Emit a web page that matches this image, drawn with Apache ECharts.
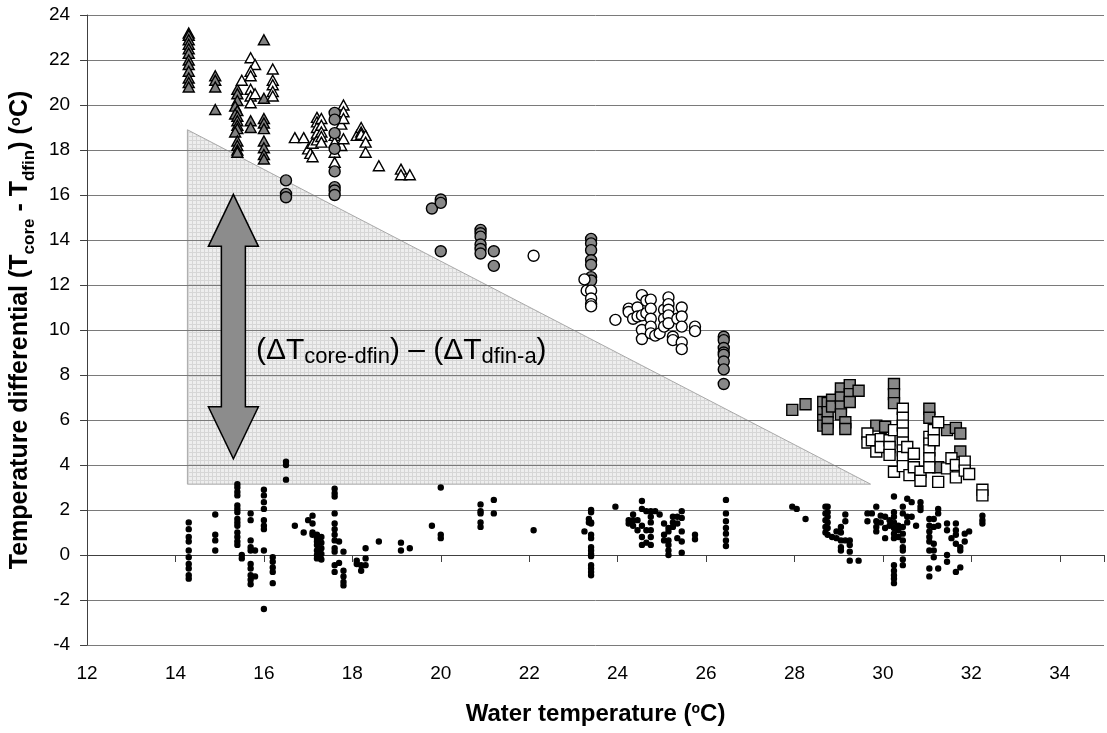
<!DOCTYPE html>
<html>
<head>
<meta charset="utf-8">
<script src="https://cdn.jsdelivr.net/npm/echarts@6/dist/echarts.min.js"></script>
<style>
  html, body { margin: 0; padding: 0; background: #fff; }
  #chart { width: 1107px; height: 733px; }
</style>
</head>
<body>
<div id="chart"></div>
<script>
// Axis ranges (°C)
const xRange = [12, 35];
const yRange = [-4, 24];
const tickStep = 2;

// Core-to-dorsal-fin differential, by group
const grayTriangles = [
  [14.3,23.2],[14.3,23.1],[14.3,22.9],[14.3,22.7],[14.3,22.5],[14.3,22.3],[14.3,22.0],[14.3,21.8],[14.3,21.5],[14.3,21.2],[14.3,21.0],[14.3,20.8],
  [14.9,21.3],[14.9,21.1],[14.9,20.8],[14.9,19.8],
  [15.4,20.7],[15.4,20.5],[15.4,20.2],[15.35,19.95],[15.4,19.75],[15.35,19.6],[15.4,19.5],[15.4,19.3],[15.4,19.1],[15.4,18.95],[15.35,18.8],[15.4,18.4],[15.4,18.2],[15.4,18.0],[15.4,17.9],
  [15.7,19.3],[15.7,19.0],
  [16.0,22.9],[16.0,20.3],[16.0,19.4],[16.0,19.2],[16.0,18.95],[16.0,18.4],[16.0,18.1],[16.0,17.8],[16.0,17.6]
];
const whiteTriangles = [
  [15.5,21.1],[15.7,22.1],[15.8,21.8],[15.7,21.5],[15.7,21.3],[15.7,20.7],[15.7,20.4],[15.7,20.1],[15.8,20.5],
  [16.2,21.6],[16.2,21.1],[16.2,20.9],[16.2,20.6],[16.2,20.4],
  [16.7,18.55],[16.9,18.55],[17.0,18.05],[17.05,17.85],[17.1,17.7],[17.1,18.3],
  [17.2,19.45],[17.2,19.25],[17.2,19.0],[17.2,18.75],[17.2,18.45],
  [17.3,19.4],[17.3,19.1],[17.3,18.8],[17.3,18.6],[17.3,18.35],
  [17.6,18.65],[17.6,18.35],[17.6,17.9],[17.6,17.45],
  [17.75,19.15],[17.75,18.2],
  [17.8,20.0],[17.8,19.7],[17.8,19.4],[17.8,18.5],
  [18.1,18.65],[18.2,19.0],[18.2,18.8],[18.2,18.7],[18.3,18.65],[18.3,18.35],[18.3,17.9],
  [18.6,17.3],[19.1,17.15],[19.1,16.9],[19.3,16.9]
];
const grayCircles = [
  [16.5,16.65],[16.5,16.05],[16.5,15.9],
  [17.6,19.65],[17.6,19.35],[17.6,18.75],[17.6,18.05],[17.6,17.05],[17.6,16.35],[17.6,16.2],[17.6,16.0],
  [19.8,15.4],[20.0,15.8],[20.0,15.65],[20.0,13.5],
  [20.9,14.45],[20.9,14.3],[20.9,14.15],[20.9,13.8],[20.9,13.6],[20.9,13.4],
  [21.2,13.5],[21.2,12.85],
  [23.4,14.05],[23.4,13.85],[23.4,13.55],[23.4,13.1],[23.4,12.9],[23.4,12.35],[23.4,12.2],
  [26.4,9.7],[26.4,9.55],[26.4,9.2],[26.4,9.0],[26.4,8.9],[26.4,8.6],[26.4,8.25],[26.4,7.6]
];
const whiteCircles = [
  [22.1,13.3],[23.25,12.25],[23.3,11.75],[23.4,11.75],[23.4,11.4],[23.4,11.15],[23.4,11.05],
  [23.95,10.45],[24.25,10.95],[24.25,10.8],[24.35,10.5],[24.45,11.0],[24.45,10.6],[24.55,11.55],[24.55,10.65],[24.55,10.0],[24.55,9.6],
  [24.65,11.3],[24.65,10.75],[24.75,11.35],[24.75,10.95],[24.75,10.5],[24.75,10.15],[24.75,9.85],[24.85,9.75],[24.95,9.85],
  [25.05,10.9],[25.05,10.5],[25.05,10.15],[25.15,11.45],[25.15,11.15],[25.15,10.9],[25.15,10.65],[25.15,10.3],
  [25.25,9.7],[25.25,9.55],[25.35,10.5],[25.45,11.0],[25.45,10.6],[25.45,10.15],[25.45,9.45],[25.45,9.15],[25.75,10.15],[25.75,9.95]
];
const graySquares = [
  [27.95,6.45],[28.25,6.7],[28.65,6.8],[28.65,6.35],[28.65,6.0],[28.65,5.75],[28.75,6.75],[28.75,6.35],[28.75,5.9],[28.75,5.6],
  [28.85,6.9],[28.85,6.6],[29.05,7.4],[29.05,7.0],[29.05,6.6],[29.05,6.25],[29.15,5.9],[29.15,5.6],[29.25,7.55],[29.25,7.15],[29.25,6.8],
  [29.45,7.3],[29.85,5.75],[30.05,5.7],[30.25,7.6],[30.25,7.15],[30.25,6.75],[31.05,6.5],[31.05,6.1],
  [31.45,5.55],[31.65,5.65],[31.75,5.4],[31.75,4.6],[31.25,3.9]
];
const whiteSquares = [
  [29.65,5.4],[29.65,5.0],[29.75,5.1],[29.85,4.6],[29.95,5.15],[29.95,4.8],[30.15,5.1],[30.15,4.8],[30.15,4.45],[30.25,5.55],[30.25,3.7],
  [30.45,6.5],[30.45,6.1],[30.45,5.75],[30.45,5.4],[30.45,5.0],[30.45,4.65],[30.45,4.35],[30.45,3.95],[30.55,4.8],[30.6,3.55],
  [30.7,4.5],[30.7,3.9],[30.85,3.7],[30.85,3.3],[31.05,5.25],[31.05,4.95],[31.05,4.65],[31.05,4.3],[31.05,3.9],[31.15,5.55],[31.15,5.1],
  [31.25,5.9],[31.25,3.25],[31.45,3.85],[31.55,4.3],[31.65,4.0],[31.65,3.45],[31.85,4.15],[31.85,3.75],[31.95,3.6],[32.25,2.9],[32.25,2.65]
];
// Dorsal-fin-to-air differential
const finAirDots = [
  [14.3,1.45],[14.3,1.15],[14.3,0.8],[14.3,0.6],[14.3,0.2],[14.3,-0.1],[14.3,-0.4],[14.3,-0.6],[14.3,-0.9],[14.3,-1.05],
  [14.9,1.8],[14.9,0.9],[14.9,0.65],[14.9,0.2],
  [15.4,3.15],[15.4,3.0],[15.4,2.8],[15.4,2.65],[15.4,2.2],[15.4,2.05],[15.4,1.9],[15.4,1.6],[15.4,1.45],[15.4,1.3],[15.4,1.0],[15.4,0.8],[15.4,0.6],[15.4,0.45],
  [15.5,0.0],[15.5,-0.15],
  [15.7,1.85],[15.7,1.55],[15.7,0.65],[15.7,0.35],[15.7,0.2],[15.7,-0.4],[15.7,-0.6],[15.7,-0.9],[15.7,-1.1],[15.7,-1.3],
  [15.8,0.2],[15.8,-0.95],
  [16.0,2.9],[16.0,2.65],[16.0,2.35],[16.0,2.05],[16.0,1.55],[16.0,1.3],[16.0,1.15],[16.0,0.2],[16.0,-2.4],
  [16.2,-0.1],[16.2,-0.3],[16.2,-0.55],[16.2,-0.75],[16.2,-1.25],
  [16.5,4.15],[16.5,4.0],[16.5,3.35],
  [16.7,1.3],[16.9,1.0],[17.0,1.55],[17.1,1.75],[17.1,1.4],[17.1,1.0],[17.1,0.9],
  [17.2,0.9],[17.2,0.75],[17.2,0.6],[17.2,0.45],[17.2,0.2],[17.2,0.0],[17.2,-0.15],
  [17.3,0.8],[17.3,0.55],[17.3,0.3],[17.3,0.05],[17.3,-0.2],
  [17.6,2.95],[17.6,2.75],[17.6,2.6],[17.6,1.85],[17.6,1.4],[17.6,1.15],[17.6,0.9],[17.6,0.65],[17.6,0.3],[17.6,0.15],[17.6,-0.45],[17.6,-0.75],
  [17.7,0.6],[17.7,-0.35],
  [17.8,0.15],[17.8,-0.7],[17.8,-0.95],[17.8,-1.2],[17.8,-1.35],
  [18.1,-0.25],[18.1,-0.4],[18.2,-0.45],[18.2,-0.7],[18.3,0.3],[18.3,-0.15],[18.3,-0.45],
  [18.6,0.6],[19.1,0.55],[19.1,0.2],[19.3,0.3],[19.8,1.3],[20.0,3.0],[20.0,0.9],[20.0,0.75],
  [20.9,2.25],[20.9,1.95],[20.9,1.85],[20.9,1.45],[20.9,1.25],[21.2,2.45],[21.2,1.85],[22.1,1.1],
  [23.25,1.05],[23.35,1.6],[23.35,1.45],
  [23.4,2.0],[23.4,1.9],[23.4,1.45],[23.4,1.4],[23.4,0.9],[23.4,0.75],[23.4,0.35],[23.4,0.2],[23.4,0.05],[23.4,-0.05],[23.4,-0.45],[23.4,-0.6],[23.4,-0.75],[23.4,-0.9],
  [23.95,2.15],[24.25,1.55],[24.25,1.4],[24.35,1.8],[24.35,1.55],[24.35,1.3],[24.45,1.55],[24.45,1.1],
  [24.55,2.4],[24.55,2.05],[24.55,1.3],[24.55,0.8],[24.55,0.45],[24.65,1.95],[24.65,1.1],[24.65,0.55],
  [24.75,1.95],[24.75,1.7],[24.75,1.45],[24.75,1.1],[24.75,0.8],[24.75,0.45],[24.85,1.95],[24.95,1.8],
  [25.05,1.4],[25.05,0.9],[25.05,0.65],[25.15,1.2],[25.15,1.05],[25.15,0.65],[25.15,0.45],[25.15,0.2],[25.15,0.0],
  [25.25,1.7],[25.25,1.45],[25.25,1.25],[25.35,1.7],[25.35,1.4],[25.35,0.75],
  [25.45,1.95],[25.45,1.65],[25.45,1.05],[25.45,0.6],[25.45,0.1],[25.75,0.9],[25.75,0.7],
  [26.45,2.45],[26.45,1.85],[26.45,1.5],[26.45,1.2],[26.45,0.95],[26.45,0.65],[26.45,0.4],
  [27.95,2.15],[28.05,2.05],[28.25,1.6],
  [28.7,2.15],[28.7,1.85],[28.7,1.55],[28.7,1.25],[28.7,1.0],
  [28.75,2.15],[28.75,1.9],[28.75,1.7],[28.75,1.45],[28.75,1.2],[28.75,0.9],
  [28.85,0.8],[28.95,1.05],[28.95,0.75],
  [29.05,1.25],[29.05,1.0],[29.05,0.65],[29.05,0.35],[29.05,0.2],
  [29.15,1.8],[29.15,1.5],[29.15,0.65],
  [29.25,0.65],[29.25,0.45],[29.25,0.15],[29.25,-0.25],[29.45,-0.25],
  [29.65,1.85],[29.65,1.5],[29.75,1.85],[29.85,2.15],[29.85,1.5],[29.85,1.25],[29.85,1.05],[29.95,1.75],[29.95,1.45],
  [30.05,1.7],[30.05,1.2],[30.05,0.75],[30.15,1.55],[30.15,1.3],
  [30.25,2.6],[30.25,1.9],[30.25,1.7],[30.25,1.45],[30.25,1.2],[30.25,0.95],[30.25,0.75],[30.25,-0.45],[30.25,-0.7],[30.25,-0.9],[30.25,-1.05],[30.25,-1.25],
  [30.35,1.3],[30.35,1.1],[30.35,0.8],
  [30.45,2.15],[30.45,1.85],[30.45,1.25],[30.45,0.95],[30.45,0.65],[30.45,0.35],[30.45,0.2],[30.45,-0.2],[30.45,-0.45],
  [30.55,2.5],[30.55,1.7],[30.55,1.45],[30.65,2.35],[30.65,1.7],[30.75,1.3],[30.85,2.35],[30.85,2.15],[30.85,2.0],
  [31.05,1.6],[31.05,1.3],[31.05,1.05],[31.05,0.8],[31.05,0.6],[31.05,0.2],[31.05,-0.6],[31.05,-0.95],
  [31.15,1.6],[31.15,1.25],[31.15,0.5],[31.15,0.2],[31.15,-0.1],
  [31.25,2.05],[31.25,1.85],[31.25,1.3],[31.25,-0.6],
  [31.45,1.4],[31.45,1.1],[31.45,0.0],[31.45,-0.3],[31.55,0.75],
  [31.65,1.4],[31.65,1.1],[31.65,0.9],[31.65,0.5],[31.65,-0.75],
  [31.75,0.35],[31.75,0.2],[31.75,-0.55],[31.85,0.95],[31.85,0.6],[31.95,1.05],
  [32.25,1.75],[32.25,1.55],[32.25,1.4]
];

// Annotation geometry in axis units
const shadeTriangle = [[14.27, 18.9], [14.27, 3.15], [29.72, 3.15]];
const arrowEnds = [[15.31, 16.03], [15.31, 4.28]];
const labelAnchor = [15.82, 9.0];

const FONT = '"Liberation Sans", Arial, sans-serif';

// fine woven texture for the shaded triangle
function makeTexture() {
  const c = document.createElement('canvas');
  c.width = 4; c.height = 4;
  const g = c.getContext('2d');
  g.fillStyle = '#eeeeee';
  g.fillRect(0, 0, 4, 4);
  g.fillStyle = '#d6d6d6';
  g.fillRect(0, 0, 4, 1);
  g.fillRect(0, 0, 1, 4);
  return c;
}

function markerSeries(data, symbol, fill, size) {
  return {
    type: 'scatter',
    data: data,
    symbol: symbol,
    symbolSize: size,
    itemStyle: { color: fill, borderColor: '#000', borderWidth: 1.4, opacity: 1 },
    silent: true,
    z: 3
  };
}

const chart = echarts.init(document.getElementById('chart'), null, { renderer: 'canvas' });
const texture = makeTexture();

function titleRich(size) {
  return {
    b: { fontFamily: FONT, fontSize: size, fontWeight: 'bold', color: '#000', lineHeight: size + 4, verticalAlign: 'top' },
    s: { fontFamily: FONT, fontSize: Math.round(size * 0.68), fontWeight: 'bold', color: '#000', lineHeight: Math.round(size * 0.68) + 2, padding: [Math.round(size * 0.5), 0, 0, 0], verticalAlign: 'top' },
    p: { fontFamily: FONT, fontSize: Math.round(size * 0.6), fontWeight: 'bold', color: '#000', lineHeight: Math.round(size * 0.6) + 1, verticalAlign: 'top' }
  };
}

const option = {
  animation: false,
  backgroundColor: '#fff',
  grid: { left: 85, right: -4, top: 15, bottom: 88 },
  xAxis: {
    type: 'value',
    min: xRange[0], max: xRange[1], interval: tickStep,
    axisLine: { show: true, lineStyle: { color: '#404040', width: 1 } },
    axisTick: { show: true, length: 7, lineStyle: { color: '#404040' } },
    splitLine: { show: false },
    axisLabel: {
      fontFamily: FONT, fontSize: 19, color: '#000', margin: 19,
      formatter: v => (v % tickStep === 0 ? String(v) : '')
    },
    name: '{b|Water temperature (}{p|o}{b|C)}',
    nameLocation: 'middle',
    nameGap: 57,
    nameTextStyle: { rich: titleRich(24) }
  },
  yAxis: {
    type: 'value',
    min: yRange[0], max: yRange[1], interval: tickStep,
    axisLine: { show: true, lineStyle: { color: '#404040', width: 1 } },
    axisTick: { show: true, length: 7, lineStyle: { color: '#404040' } },
    splitLine: { show: true, lineStyle: { color: '#7a7a7a', width: 1 } },
    axisLabel: { fontFamily: FONT, fontSize: 19, color: '#000', margin: 17 },
    name: '{b|Temperature differential (T}{s|core}{b| - T}{s|dfin}{b|) (}{p|o}{b|C)}',
    nameLocation: 'middle',
    nameGap: 50,
    nameTextStyle: { rich: titleRich(25) }
  },
  series: [
    {
      // shaded triangle, beneath the gridlines
      type: 'custom',
      silent: true,
      z: -1,
      data: [[0, 0]],
      renderItem: function (params, api) {
        return {
          type: 'polygon',
          shape: { points: shadeTriangle.map(p => api.coord(p)) },
          style: { fill: { image: texture, repeat: 'repeat' }, stroke: '#a8a8a8', lineWidth: 1 }
        };
      }
    },
    markerSeries(finAirDots, 'circle', '#000', 5),
    markerSeries(grayTriangles, 'triangle', '#808080', [11, 10]),
    markerSeries(whiteTriangles, 'triangle', '#ffffff', [11, 10]),
    markerSeries(grayCircles, 'circle', '#888888', 11),
    markerSeries(whiteCircles, 'circle', '#ffffff', 11),
    markerSeries(graySquares, 'rect', '#888888', 11),
    markerSeries(whiteSquares, 'rect', '#ffffff', 11),
    {
      // double-headed arrow and its label
      type: 'custom',
      silent: true,
      z: 5,
      data: [[0, 0]],
      renderItem: function (params, api) {
        const top = api.coord(arrowEnds[0]);
        const bot = api.coord(arrowEnds[1]);
        const cx = top[0], ty = top[1], by = bot[1];
        const hw = 25, sw = 12, hl = 52;
        const pts = [
          [cx, ty], [cx + hw, ty + hl], [cx + sw, ty + hl], [cx + sw, by - hl], [cx + hw, by - hl],
          [cx, by], [cx - hw, by - hl], [cx - sw, by - hl], [cx - sw, ty + hl], [cx - hw, ty + hl]
        ];
        const anchor = api.coord(labelAnchor);
        return {
          type: 'group',
          children: [
            {
              type: 'polygon',
              shape: { points: pts },
              style: { fill: '#8c8c8c', stroke: '#000', lineWidth: 1.5 }
            },
            {
              type: 'text',
              x: anchor[0], y: anchor[1],
              style: {
                text: '{m|(ΔT}{s|core-dfin}{m|) – (ΔT}{s|dfin-a}{m|)}',
                align: 'left',
                verticalAlign: 'middle',
                rich: {
                  m: { fontFamily: FONT, fontSize: 30, color: '#000', lineHeight: 34, verticalAlign: 'top' },
                  s: { fontFamily: FONT, fontSize: 22, color: '#000', lineHeight: 24, padding: [10, 0, 0, 0], verticalAlign: 'top' }
                }
              }
            }
          ]
        };
      }
    }
  ]
};

chart.setOption(option);
</script>
</body>
</html>
